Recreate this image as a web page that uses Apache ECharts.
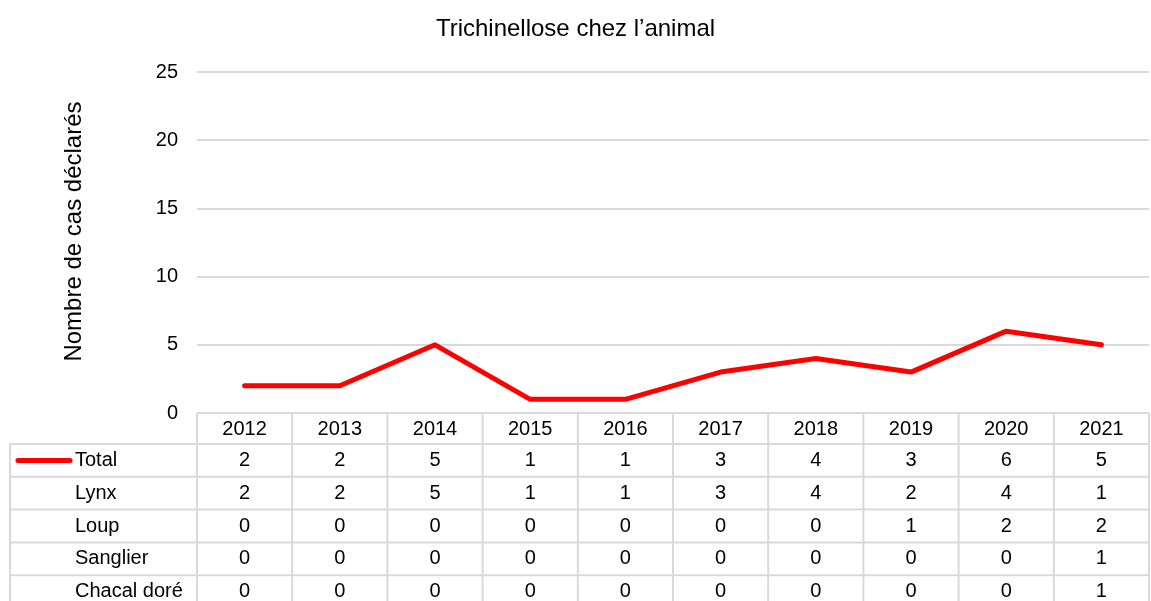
<!DOCTYPE html>
<html>
<head>
<meta charset="utf-8">
<script src="https://cdn.jsdelivr.net/npm/echarts@6/dist/echarts.min.js"></script>
<style>
  html, body { margin: 0; padding: 0; background: #fff; }
  #chart_box { width: 1151px; height: 601px; }
</style>
</head>
<body>
<div id="chart_box"></div>
<script>
// données
var years = ["2012", "2013", "2014", "2015", "2016", "2017", "2018", "2019", "2020", "2021"];
var total = [2, 2, 5, 1, 1, 3, 4, 3, 6, 5];
var lynx = [2, 2, 5, 1, 1, 3, 4, 2, 4, 1];
var loup = [0, 0, 0, 0, 0, 0, 0, 1, 2, 2];
var sanglier = [0, 0, 0, 0, 0, 0, 0, 0, 0, 1];
var chacal = [0, 0, 0, 0, 0, 0, 0, 0, 0, 1];
var rowNames = ["Total", "Lynx", "Loup", "Sanglier", "Chacal doré"];
var rowData = [total, lynx, loup, sanglier, chacal];

var font = "'Liberation Sans', Arial, sans-serif";
var gridColor = "#d9d9d9";
var txtSize = 20;

var mychart = echarts.init(document.getElementById("chart_box"));

var option = {
  animation: false,
  title: {
    text: "Trichinellose chez l’animal",
    left: "center",
    top: 12,
    textStyle: { fontFamily: font, fontSize: 24, fontWeight: "normal", color: "#000" }
  },
  grid: { left: 197, right: 2, top: 72, bottom: 188 },
  xAxis: {
    type: "category",
    data: years,
    boundaryGap: true,
    axisLine: { show: false },
    axisTick: { show: false },
    axisLabel: { show: false }
  },
  yAxis: {
    type: "value",
    min: 0,
    max: 25,
    interval: 5,
    name: "Nombre de cas déclarés",
    nameLocation: "middle",
    nameGap: 111,
    nameTextStyle: { fontFamily: font, fontSize: 24, color: "#000", padding: [0, 0, 0, 22] },
    axisLine: { show: false },
    axisTick: { show: false },
    axisLabel: { fontFamily: font, fontSize: txtSize, color: "#000", margin: 19 },
    splitLine: { lineStyle: { color: gridColor, width: 2 } }
  },
  series: [
    {
      name: "Total",
      type: "line",
      data: total,
      symbol: "none",
      lineStyle: { color: "#ff0000", width: 5, cap: "round", join: "round" }
    }
  ]
};
mychart.setOption(option);

// tableau de données sous le graphique
var g = [];
var x0 = mychart.convertToPixel({ xAxisIndex: 0 }, 0);
var x1 = mychart.convertToPixel({ xAxisIndex: 0 }, 1);
var step = x1 - x0;
var tableTop = mychart.convertToPixel({ yAxisIndex: 0 }, 0);
var headH = 31;
var rowH = 32.8;
var tableLeft = 10;
var colLeft = x0 - step / 2;
var tableRight = mychart.convertToPixel({ xAxisIndex: 0 }, years.length - 1) + step / 2;
var bottom = tableTop + headH + rowH * rowNames.length;
var lineStyle = { stroke: gridColor, lineWidth: 2 };

// lignes horizontales
g.push({ type: "line", shape: { x1: colLeft, y1: tableTop, x2: tableRight, y2: tableTop }, style: lineStyle });
for (var r = 0; r <= rowNames.length; r++) {
  var yy = tableTop + headH + r * rowH;
  g.push({ type: "line", shape: { x1: tableLeft, y1: yy, x2: tableRight, y2: yy }, style: lineStyle });
}
// lignes verticales
g.push({ type: "line", shape: { x1: tableLeft, y1: tableTop + headH, x2: tableLeft, y2: bottom }, style: lineStyle });
for (var c = 0; c <= years.length; c++) {
  var xx = colLeft + c * step;
  g.push({ type: "line", shape: { x1: xx, y1: tableTop, x2: xx, y2: bottom }, style: lineStyle });
}

// en-tête des années
years.forEach(function (y, i) {
  g.push({
    type: "text",
    x: mychart.convertToPixel({ xAxisIndex: 0 }, i),
    y: tableTop + headH / 2 + 1,
    style: { text: y, fontFamily: font, fontSize: txtSize, fill: "#000", align: "center", verticalAlign: "middle" }
  });
});

// lignes de valeurs
rowNames.forEach(function (name, r) {
  var cy = tableTop + headH + r * rowH + rowH / 2;
  g.push({
    type: "text",
    x: 75,
    y: cy,
    style: { text: name, fontFamily: font, fontSize: txtSize, fill: "#000", align: "left", verticalAlign: "middle" }
  });
  rowData[r].forEach(function (v, i) {
    g.push({
      type: "text",
      x: mychart.convertToPixel({ xAxisIndex: 0 }, i),
      y: cy,
      style: { text: String(v), fontFamily: font, fontSize: txtSize, fill: "#000", align: "center", verticalAlign: "middle" }
    });
  });
});

// clé de légende
var keyY = tableTop + headH + rowH / 2;
g.push({
  type: "line",
  shape: { x1: 18, y1: keyY, x2: 70, y2: keyY },
  style: { stroke: "#ff0000", lineWidth: 5, lineCap: "round" }
});

mychart.setOption({ graphic: g });
</script>
</body>
</html>
